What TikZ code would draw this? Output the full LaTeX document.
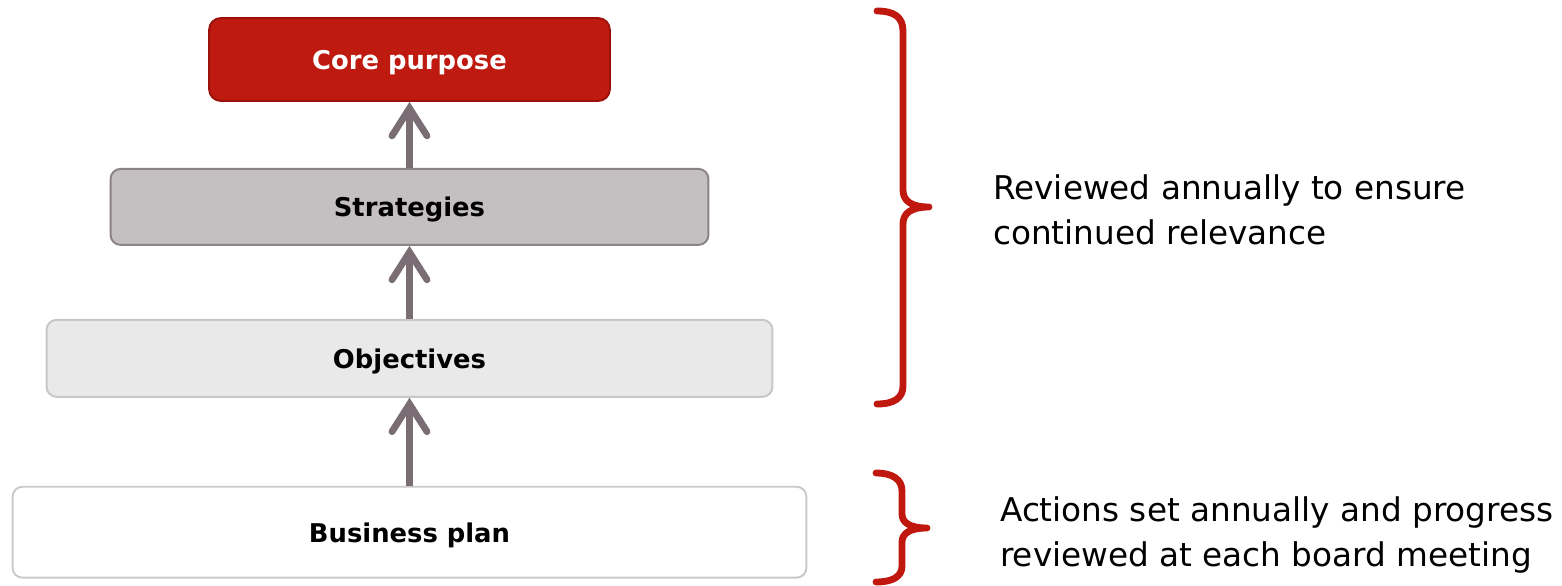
\documentclass[tikz,border=0pt]{standalone}
\usepackage{fontspec}
\setmainfont{DejaVu Sans}
\usetikzlibrary{arrows.meta, positioning}

\definecolor{corered}{HTML}{BE1A10}
\definecolor{coreedge}{HTML}{9A1209}
\definecolor{stratfill}{HTML}{C4C0C1}
\definecolor{stratedge}{HTML}{8A8285}
\definecolor{objfill}{HTML}{E9E9E9}
\definecolor{objedge}{HTML}{C8C6C7}
\definecolor{planedge}{HTML}{CBC8C9}
\definecolor{arrowgrey}{HTML}{7A6E74}
\definecolor{bracered}{HTML}{C0170F}

\begin{document}
\begin{tikzpicture}[
  x=0.02cm, y=-0.02cm,
  level/.style={draw, rounded corners=0.2cm, line width=1.1pt, align=center, text depth=0pt, font=\bfseries\fontsize{14.7}{17}\selectfont},
  note/.style={align=left, font=\fontsize{18.6}{25.6}\selectfont},
  curly/.style={draw=bracered, line width=3.9pt, line cap=round, line join=round},
  up/.style={->, draw=arrowgrey, line width=3.9pt},
  >={Straight Barb[length=0.55cm, width=0.7cm, line cap=round]}
]
\useasboundingbox (0,0) rectangle (1562,585);
\node[level, fill=corered, draw=coreedge, text=white, rounded corners=0.24cm, minimum width=8.02cm, minimum height=1.66cm] (core) at (409.5,59.5) {Core purpose};
\node[level, fill=stratfill, draw=stratedge, minimum width=11.96cm, minimum height=1.52cm, below=1.32cm of core] (strat) {Strategies};
\node[level, fill=objfill, draw=objedge, minimum width=14.52cm, minimum height=1.54cm, below=1.46cm of strat] (obj) {Objectives};
\node[level, fill=white, draw=planedge, minimum width=15.88cm, minimum height=1.82cm, below=1.76cm of obj] (plan) {Business plan};
\draw[up] (strat) -- (core);
\draw[up] (obj) -- (strat);
\draw[up] (plan) -- (obj);
% braces
\coordinate (tip1) at (929,207);
\coordinate (tip2) at (927,528);
\draw[curly] (877,11) .. controls (894,11) and (903,17) .. (903,31) -- (903,190)
  .. controls (903,200) and (910,207) .. (tip1) .. controls (910,207) and (903,214) .. (903,224)
  -- (903,386) .. controls (903,398) and (894,404) .. (877,404);
\draw[curly] (876,473) .. controls (892,473) and (902,479) .. (902,491) -- (902,514)
  .. controls (902,522) and (909,528) .. (tip2) .. controls (909,528) and (902,534) .. (902,542)
  -- (902,566) .. controls (902,577) and (892,582) .. (876,582);
\node[note, right=1.16cm of tip1, yshift=-0.05cm] (annual) {Reviewed annually to ensure\\continued relevance};
\node[note, right=1.34cm of tip2, yshift=-0.13cm] (board) {Actions set annually and progress\\reviewed at each board meeting};
\end{tikzpicture}
\end{document}
